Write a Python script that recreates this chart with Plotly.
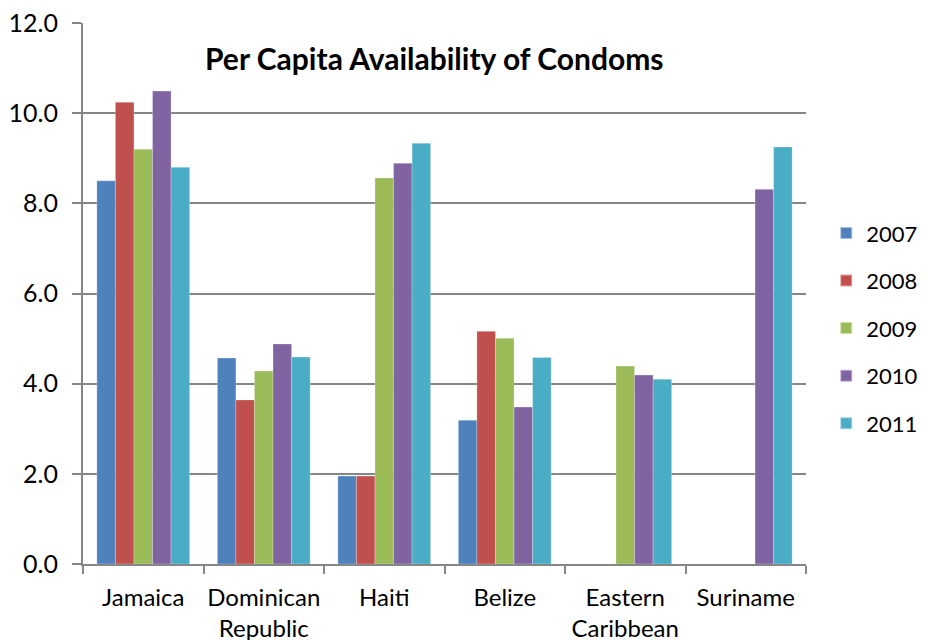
import plotly.graph_objects as go

categories = ["Jamaica", "Dominican<br>Republic", "Haiti", "Belize", "Eastern<br>Caribbean", "Suriname"]
years = ["2007", "2008", "2009", "2010", "2011"]
v2007 = [8.5, 4.57, 1.95, 3.19, None, None]
v2008 = [10.24, 3.64, 1.95, 5.16, None, None]
v2009 = [9.2, 4.28, 8.56, 5.01, 4.39, None]
v2010 = [10.49, 4.88, 8.89, 3.48, 4.19, 8.31]
v2011 = [8.8, 4.59, 9.33, 4.58, 4.10, 9.25]
series = [v2007, v2008, v2009, v2010, v2011]
colors = ["#4F81BD", "#C0504D", "#9BBB59", "#8064A2", "#4BACC6"]

FONT = "Lato, 'Open Sans', sans-serif"

fig = go.Figure()
for y, vals, c in zip(years, series, colors):
    fig.add_trace(go.Bar(
        x=categories, y=vals, name=y, legendgroup=y,
        marker=dict(color=c, line=dict(color="rgba(255,255,255,0.5)", width=0.5)),
    ))

fig.update_layout(
    width=920, height=632,
    margin=dict(l=75, r=122, t=15, b=76, autoexpand=False),
    paper_bgcolor="white", plot_bgcolor="white",
    barmode="group", bargap=0.23, bargroupgap=0,
    font=dict(family=FONT, size=25, color="black"),
    showlegend=True,
    legend=dict(
        x=1.028, xanchor="left", y=0.436, yanchor="middle",
        font=dict(family=FONT, size=22, color="black"),
        tracegroupgap=16, itemsizing="constant",
    ),
    annotations=[dict(
        text="<b>Per Capita Availability of Condoms</b>",
        xref="paper", yref="paper", x=0.486, y=0.935,
        xanchor="center", yanchor="middle", showarrow=False,
        font=dict(family=FONT, size=30, color="black"),
    )],
)

fig.update_xaxes(
    type="category", tickson="boundaries", ticks="outside", ticklen=8,
    tickcolor="#868686", tickwidth=2, tickangle=0,
    showline=True, linecolor="#868686", linewidth=2,
    showgrid=False, ticklabelstandoff=11, ticklabeloverflow="allow",
    tickfont=dict(family=FONT, size=24, color="black"),
)
fig.update_yaxes(
    range=[0, 12], dtick=2, tickformat=".1f",
    ticks="outside", ticklen=9, tickcolor="#868686", tickwidth=2,
    showline=True, linecolor="#868686", linewidth=2,
    showgrid=True, gridcolor="#868686", gridwidth=2,
    zeroline=False, ticklabelstandoff=9, ticklabeloverflow="allow",
    tickfont=dict(family=FONT, size=25, color="black"),
)

fig.write_html("out.html")
